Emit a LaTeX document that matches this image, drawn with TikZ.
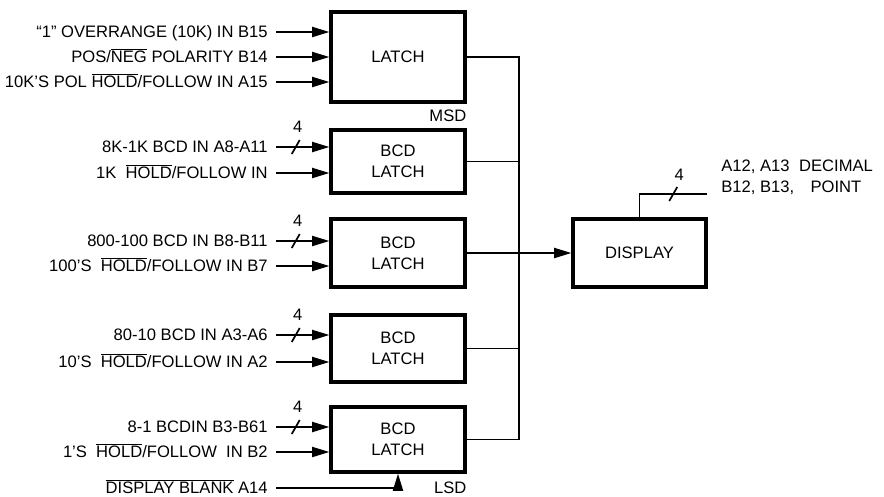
\documentclass[tikz,border=0pt]{standalone}
\usepackage{fontspec}
\setmainfont{Liberation Sans}
\usetikzlibrary{arrows.meta,positioning,calc}
\newcommand{\ovl}[1]{$\overline{\hbox{#1}}$}
\tikzset{
  wire/.style={line width=1.4pt},
  flowarrow/.style={-{Triangle[length=4.3mm,width=2.5mm]}, line width=1.4pt},
  latchbox/.style={draw, line width=2.3pt, minimum width=3.35cm,
    align=center, font=\fontsize{11.8}{15}\selectfont},
  inlabel/.style={anchor=east, inner xsep=0.2cm, inner ysep=0pt,
    text height=8.5pt, text depth=0pt, font=\fontsize{11.8}{15}\selectfont},
  busslash/.style={line width=1.2pt},
  buswidth/.style={font=\fontsize{11.8}{15}\selectfont, inner sep=0pt},
  smallnote/.style={font=\fontsize{11.8}{15}\selectfont, inner sep=0pt}
}
\begin{document}
\begin{tikzpicture}[x=0.025cm, y=-0.025cm]
                \useasboundingbox (0,0) rectangle (884,496);
                \node[latchbox, minimum height=2.25cm] (msdlatch) at (398,57) {LATCH};
                \node[latchbox, minimum height=1.575cm] (kilo) at (398,161.5) {BCD\\LATCH};
                \node[latchbox, minimum height=1.7cm] (hundreds) at (398,253) {BCD\\LATCH};
                \node[latchbox, minimum height=1.675cm] (tens) at (398,348.5) {BCD\\LATCH};
                \node[latchbox, minimum height=1.625cm] (units) at (398,439.5) {BCD\\LATCH};
                \node[latchbox, minimum height=1.7cm, minimum width=3.325cm] (disp) at (639.5,253) {DISPLAY};

                \node[inlabel] (ovr) at (276,32) {``1'' OVERRANGE (10K) IN B15};
                \node[inlabel] (pol) at (276,57) {POS/\ovl{NEG} POLARITY B14};
                \node[inlabel] (polhold) at (276,82) {10K'S POL \ovl{HOLD}/FOLLOW IN A15};
                \node[inlabel] (kbcd) at (276,147) {8K-1K BCD IN A8-A11};
                \node[inlabel] (khold) at (276,173) {1K~ \ovl{HOLD}/FOLLOW IN};
                \node[inlabel] (hbcd) at (276,241) {800-100 BCD IN B8-B11};
                \node[inlabel] (hhold) at (276,266) {100'S~ \ovl{HOLD}/FOLLOW IN B7};
                \node[inlabel] (tbcd) at (276,335) {80-10 BCD IN A3-A6};
                \node[inlabel] (thold) at (276,362) {10'S~ \ovl{HOLD}/FOLLOW IN A2};
                \node[inlabel] (ubcd) at (276,427) {8-1 BCDIN B3-B61};
                \node[inlabel] (uhold) at (276,452) {1'S~ \ovl{HOLD}/FOLLOW~ IN B2};
                \node[inlabel] (blank) at (276,488) {\ovl{DISPLAY BLANK} A14};

                \node[smallnote, anchor=east] (msd) at ($(msdlatch.south east)!.5!(kilo.north east)$) {MSD};
                \node[smallnote, anchor=east] (lsd) at ($(units.south east)+(0,14)$) {LSD};

                \draw[flowarrow] (ovr.east) -- (ovr.east -| msdlatch.west);
                \draw[flowarrow] (pol.east) -- (pol.east -| msdlatch.west);
                \draw[flowarrow] (polhold.east) -- (polhold.east -| msdlatch.west);
                \draw[flowarrow] (kbcd.east) -- coordinate[pos=0.37] (kslash) (kbcd.east -| kilo.west);
                \draw[flowarrow] (khold.east) -- (khold.east -| kilo.west);
                \draw[flowarrow] (hbcd.east) -- coordinate[pos=0.37] (hslash) (hbcd.east -| hundreds.west);
                \draw[flowarrow] (hhold.east) -- (hhold.east -| hundreds.west);
                \draw[flowarrow] (tbcd.east) -- coordinate[pos=0.37] (tslash) (tbcd.east -| tens.west);
                \draw[flowarrow] (thold.east) -- (thold.east -| tens.west);
                \draw[flowarrow] (ubcd.east) -- coordinate[pos=0.37] (uslash) (ubcd.east -| units.west);
                \draw[flowarrow] (uhold.east) -- (uhold.east -| units.west);
                \draw[flowarrow] (blank.east) -| (units.south);

                \draw[busslash] ($(kslash)+(-4,7)$) -- ($(kslash)+(4,-7)$);
                \draw[busslash] ($(hslash)+(-4,7)$) -- ($(hslash)+(4,-7)$);
                \draw[busslash] ($(tslash)+(-4,7)$) -- ($(tslash)+(4,-7)$);
                \draw[busslash] ($(uslash)+(-4,7)$) -- ($(uslash)+(4,-7)$);
                \node[buswidth] (kfour) at ($(kslash)+(2,-20)$) {4};
                \node[buswidth] (hfour) at ($(hslash)+(2,-20)$) {4};
                \node[buswidth] (tfour) at ($(tslash)+(2,-20)$) {4};
                \node[buswidth] (ufour) at ($(uslash)+(2,-20)$) {4};

                \coordinate (bus) at (519,0);
                \draw[wire] (msdlatch.east) -| (bus |- units.east) -- (units.east);
                \draw[wire] (kilo.east) -- (bus |- kilo.east);
                \draw[wire] (tens.east) -- (bus |- tens.east);
                \draw[flowarrow] (hundreds.east) -- (disp.west);

                \coordinate (dpend) at (707,194);
                \draw[wire] (disp.north) |- coordinate[pos=0.75] (dslash) (dpend);
                \draw[busslash] ($(dslash)+(-4,7)$) -- ($(dslash)+(4,-7)$);
                \node[buswidth] (dfour) at ($(dslash)+(6,-19)$) {4};
                \node[smallnote, align=left, anchor=north west] (pins) at (721,160) {A12, A13\\B12, B13,};
                \node[smallnote, align=center, anchor=north] (dpoint) at (836,160) {DECIMAL\\POINT};
            \end{tikzpicture}
\end{document}
